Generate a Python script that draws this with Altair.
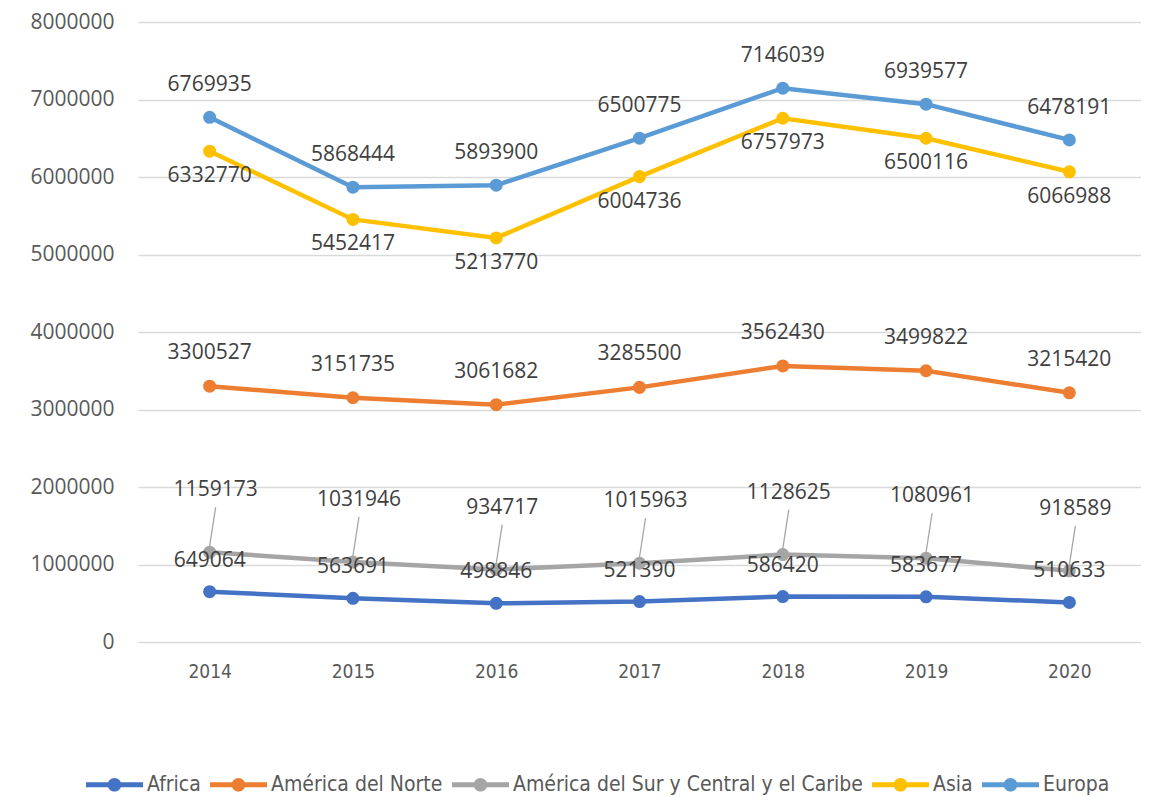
import altair as alt
import pandas as pd

years = ["2014", "2015", "2016", "2017", "2018", "2019", "2020"]
series_names = ["Africa", "América del Norte", "América del Sur y Central y el Caribe", "Asia", "Europa"]
africa = [649064, 563691, 498846, 521390, 586420, 583677, 510633]
norte = [3300527, 3151735, 3061682, 3285500, 3562430, 3499822, 3215420]
sur = [1159173, 1031946, 934717, 1015963, 1128625, 1080961, 918589]
asia = [6332770, 5452417, 5213770, 6004736, 6757973, 6500116, 6066988]
europa = [6769935, 5868444, 5893900, 6500775, 7146039, 6939577, 6478191]
colors = ["#4472C4", "#ED7D31", "#A5A5A5", "#FFC000", "#5B9BD5"]
y_ticks = [0, 1000000, 2000000, 3000000, 4000000, 5000000, 6000000, 7000000, 8000000]

rows = []
for name, vals in zip(series_names, [africa, norte, sur, asia, europa]):
    for yr, v in zip(years, vals):
        rows.append({"Año": yr, "Región": name, "Valor": v})
df = pd.DataFrame(rows)

NUM_FONT = "Open Sans"
NARROW_FONT = "Liberation Sans Narrow, DejaVu Sans Condensed, Roboto Condensed, Noto Sans"

x = alt.X("Año:O", scale=alt.Scale(type="point", padding=0.5),
          axis=alt.Axis(title=None, labelAngle=0, ticks=False, domain=False, grid=False,
                        labelPadding=20, labelFont=NARROW_FONT, labelFontSize=19,
                        labelColor="#595959"))
y = alt.Y("Valor:Q", scale=alt.Scale(domain=[0, 8000000], nice=False),
          axis=alt.Axis(title=None, values=y_ticks, format="d", ticks=False, domain=False,
                        grid=True, gridColor="#D9D9D9", gridWidth=1.5, labelPadding=24,
                        labelFont=NUM_FONT, labelFontSize=21, labelColor="#595959"))

base = alt.Chart(df)

lines = base.mark_line(strokeWidth=4.5).encode(
    x=x, y=y,
    stroke=alt.Stroke("Región:N", scale=alt.Scale(domain=series_names, range=colors), legend=None),
    detail="Región:N",
)

sym = "M-1,-0.09L1,-0.09L1,0.09L-1,0.09Z M0.24,0A0.24,0.24 0 1,1 -0.24,0A0.24,0.24 0 1,1 0.24,0Z"

points = base.mark_point(filled=True, size=170, opacity=1, shape="circle").encode(
    x=x, y=y,
    fill=alt.Fill("Región:N", scale=alt.Scale(domain=series_names, range=colors),
                  legend=alt.Legend(orient="none", legendX=-52, legendY=734, direction="horizontal",
                                    title=None, symbolType=sym, symbolSize=3249,
                                    symbolStrokeWidth=0, symbolOpacity=1,
                                    labelFont=NARROW_FONT, labelFontSize=21, labelColor="#595959",
                                    labelOffset=4, columnPadding=9, labelLimit=500)),
)

leaders = base.transform_filter(
    alt.datum["Región"] == "América del Sur y Central y el Caribe"
).mark_rule(color="#A6A6A6", strokeWidth=1.3, yOffset=-6, y2Offset=-45, x2Offset=6).encode(
    x=x, x2=alt.X2("Año:O"), y=y, y2=alt.Y2("Valor:Q")
)

label_dy = {
    "Africa": (-31, 0),
    "América del Norte": (-33, 0),
    "América del Sur y Central y el Caribe": (-62, 6),
    "Asia": (25, 0),
    "Europa": (-32, 0),
}

texts = []
for name in series_names:
    dy, dx = label_dy[name]
    texts.append(
        base.transform_filter(alt.datum["Región"] == name).mark_text(
            dy=dy, dx=dx, fontSize=21, font=NUM_FONT, color="#404040", baseline="middle"
        ).encode(x=x, y=y, text=alt.Text("Valor:Q", format="d"))
    )

chart = alt.layer(leaders, lines, points, *texts).properties(
    width=1003, height=620,
    autosize=alt.AutoSizeParams(type="none"),
    padding={"left": 130, "top": 14, "right": 0, "bottom": 153},
).configure_view(stroke=None).resolve_scale(stroke="independent", fill="independent")

chart.save("out.html", embed_options={"renderer": "svg", "actions": False})
